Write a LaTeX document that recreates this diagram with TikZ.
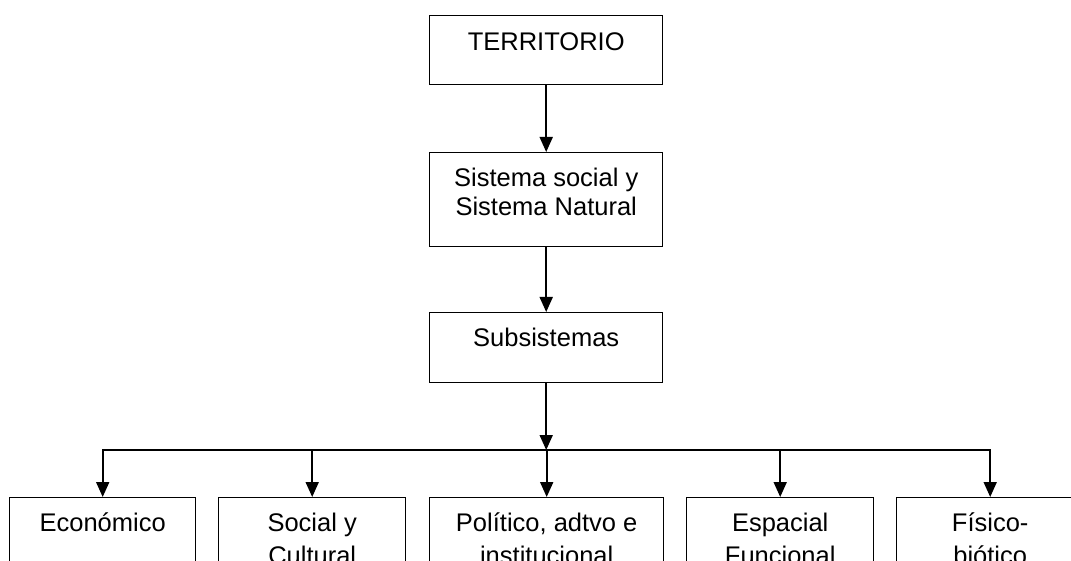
\documentclass[tikz,border=0pt]{standalone}
\usepackage{fontspec}
\setmainfont{Liberation Sans}
\usetikzlibrary{arrows.meta}
\begin{document}
\begin{tikzpicture}[x=1pt,y=1pt,
  box/.style={draw=black, line width=1.4pt, fill=white, inner sep=0pt, anchor=north west},
  txt/.style={inner sep=0pt, align=center, anchor=base, font=\fontsize{25.5}{29}\selectfont},
  txtlow/.style={txt, font=\fontsize{25.5}{33}\selectfont},
  arr/.style={line width=1.8pt, -{Triangle[length=15pt,width=13pt]}},
  conn/.style={line width=1.8pt, line cap=rect}]
\useasboundingbox (0,0) rectangle (1071,-561);
\clip (0,0) rectangle (1071,-561);
\fill[white] (0,0) rectangle (1071,-561);
% boxes
\node[box, minimum width=233pt, minimum height=69pt] (terr) at (429,-15) {};
\node[box, minimum width=233pt, minimum height=94pt] (sist) at (429,-152) {};
\node[box, minimum width=233pt, minimum height=70pt] (subs) at (429,-312) {};
\node[box, minimum width=186pt, minimum height=120pt] (b1) at (9,-497) {};
\node[box, minimum width=187pt, minimum height=120pt] (b2) at (218,-497) {};
\node[box, minimum width=234pt, minimum height=120pt] (b3) at (429,-497) {};
\node[box, minimum width=187pt, minimum height=120pt] (b4) at (686,-497) {};
\node[box, minimum width=187pt, minimum height=120pt] (b5) at (896,-497) {};
% texts (base anchor = baseline of the last line)
\node[txt] (tterr) at (terr.north |- 0,-51) {TERRITORIO};
\node[txt] (tsist) at (sist.north |- 0,-216) {Sistema social y\\Sistema Natural};
\node[txt] (tsubs) at (subs.north |- 0,-347) {Subsistemas};
\node[txt] (tb1) at (b1.north |- 0,-531) {Económico};
\node[txtlow] (tb2) at (b2.north |- 0,-564) {Social y\\Cultural};
\node[txtlow] (tb3) at (b3.north |- 0,-564) {Político, adtvo e\\institucional};
\node[txtlow] (tb4) at (b4.north |- 0,-564) {Espacial\\Funcional};
\node[txtlow] (tb5) at (b5.north |- 0,-564) {Físico-\\biótico};
% connectors
\coordinate (hub) at (subs.south |- 0,-450);
\draw[arr] (terr.south) -- (sist.north);
\draw[arr] (sist.south) -- (subs.north);
\draw[arr] (subs.south) -- (hub);
\draw[conn] (b1.north |- hub) -- (b5.north |- hub);
\draw[arr] (b1.north |- hub) -- (b1.north);
\draw[arr] (b2.north |- hub) -- (b2.north);
\draw[arr] (b3.north |- hub) -- (b3.north);
\draw[arr] (b4.north |- hub) -- (b4.north);
\draw[arr] (b5.north |- hub) -- (b5.north);
\end{tikzpicture}
\end{document}
